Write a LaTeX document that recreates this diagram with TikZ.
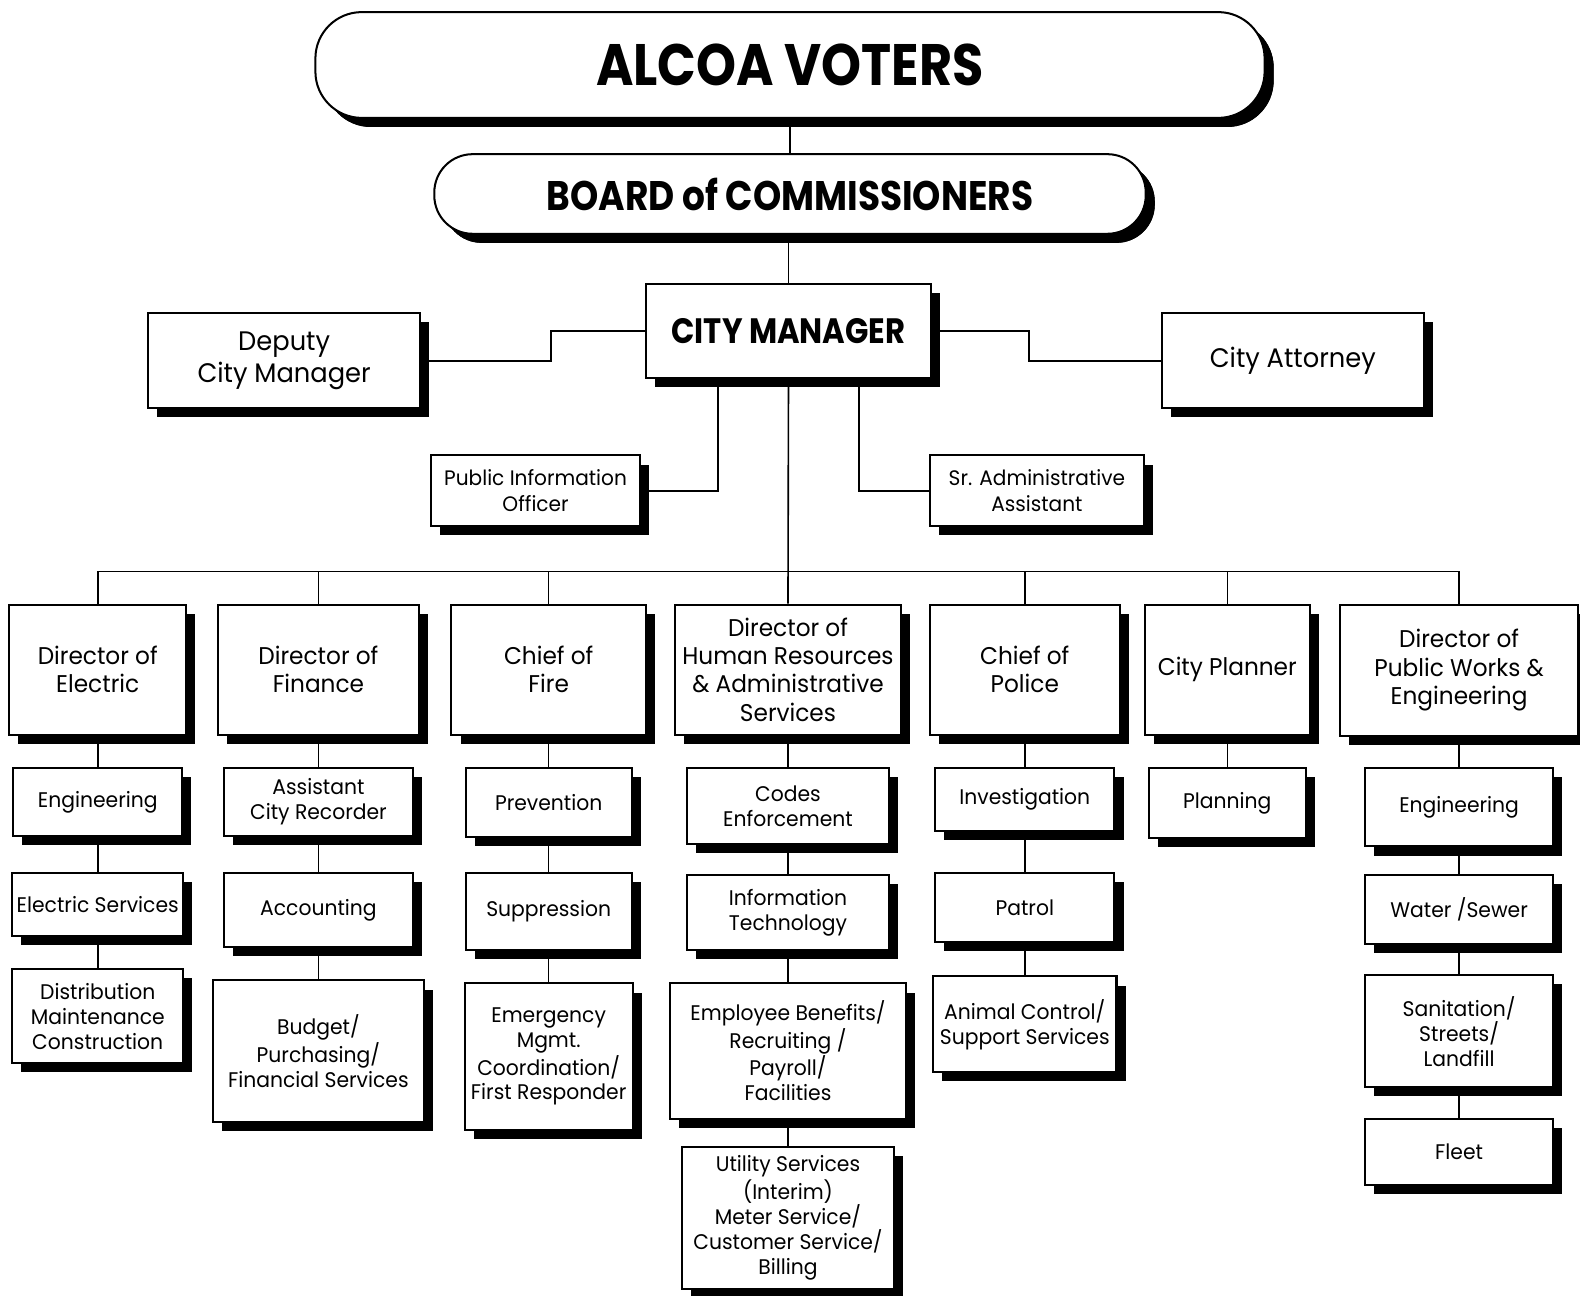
\documentclass[tikz,border=0pt]{standalone}
\usepackage{fontspec}
\setmainfont{Poppins}[FakeStretch=0.96, BoldFeatures={FakeStretch=0.87}]
\usetikzlibrary{shadows}
\tikzset{
  box/.style={draw=black, line width=1pt, fill=white, rectangle, align=center, inner sep=1pt,
    general shadow={fill=black, shadow xshift=4.5pt, shadow yshift=-4.5pt}},
  pill/.style={box, rounded corners=#1},
  conn/.style={draw=black, line width=0.8pt},
  ftop/.style={font=\bfseries\fontsize{29}{32}\selectfont},
  fboard/.style={font=\bfseries\fontsize{20.5}{24}\selectfont},
  fcm/.style={font=\bfseries\fontsize{17.5}{21}\selectfont},
  fside/.style={font=\fontsize{13.3}{15.5}\selectfont},
  fdir/.style={font=\fontsize{12}{14}\selectfont},
  fsmall/.style={font=\fontsize{10.4}{13}\selectfont},
  fsub/.style={font=\fontsize{10.5}{12.4}\selectfont},
}
\newcommand\bx[7]{%
  \node[box,#6,minimum width={(#4-#2)*0.5pt},minimum height={(#5-#3)*0.5pt}] (#1) at ({(#2+#4)/2},{(#3+#5)/2}) {#7};}
\begin{document}
\begin{tikzpicture}[x=0.5pt,y=-0.5pt]
\clip (0,0) rectangle (1568,1286);
\fill[white] (0,0) rectangle (1568,1286);
% top
\bx{voters}{313}{12}{1255}{117}{pill=23pt,ftop}{ALCOA VOTERS}
\bx{board}{431}{153}{1137}{232}{pill=19pt,fboard}{BOARD of COMMISSIONERS}
\bx{cm}{641}{282}{924}{375}{fcm}{CITY MANAGER}
\bx{dep}{147}{311}{417}{405}{fside}{Deputy\\City Manager}
\bx{att}{1153}{311}{1413}{405}{fside}{City Attorney}
\bx{pio}{428}{452}{635}{522}{fsmall}{Public Information\\Officer}
\bx{sra}{923}{452}{1135}{522}{fsmall}{Sr. Administrative\\Assistant}
% directors
\bx{dirE}{9}{600}{185}{729}{fdir}{Director of\\Electric}
\bx{dirF}{216}{600}{416}{729}{fdir}{Director of\\Finance}
\bx{dirFi}{448}{600}{641}{729}{fdir}{Chief of\\Fire}
\bx{dirH}{670}{600}{894}{729}{fdir}{Director of\\Human Resources\\\& Administrative\\Services}
\bx{dirP}{923}{600}{1111}{729}{fdir}{Chief of\\Police}
\bx{dirC}{1136}{600}{1300}{729}{fdir}{City Planner}
\bx{dirW}{1330}{600}{1566}{730}{fdir}{Director of\\Public Works \&\\Engineering}
% electric
\bx{e1}{13}{762}{181}{830}{fsub}{Engineering}
\bx{e2}{12}{866}{182}{929}{fsub}{Electric Services}
\bx{e3}{12}{962}{182}{1055}{fsub}{Distribution\\Maintenance\\Construction}
% finance
\bx{f1}{222}{762}{410}{830}{fsub}{Assistant\\City Recorder}
\bx{f2}{222}{866}{410}{940}{fsub}{Accounting}
\bx{f3}{211}{973}{421}{1113}{fsub}{Budget/\\Purchasing/\\Financial Services}
% fire
\bx{fi1}{462}{762}{627}{831}{fsub}{Prevention}
\bx{fi2}{462}{866}{627}{943}{fsub}{Suppression}
\bx{fi3}{461}{976}{628}{1121}{fsub}{Emergency\\Mgmt.\\Coordination/\\First Responder}
% hr
\bx{h1}{682}{762}{882}{838}{fsub}{Codes\\Enforcement}
\bx{h2}{682}{868}{882}{943}{fsub}{Information\\Technology}
\bx{h3}{665}{976}{899}{1110}{fsub}{Employee Benefits/\\Recruiting /\\Payroll/\\Facilities}
\bx{h4}{677}{1138}{887}{1279}{fsub}{Utility Services\\(Interim)\\Meter Service/\\Customer Service/\\Billing}
% police
\bx{p1}{928}{762}{1106}{825}{fsub}{Investigation}
\bx{p2}{928}{866}{1106}{935}{fsub}{Patrol}
\bx{p3}{926}{969}{1108}{1064}{fsub}{Animal Control/\\Support Services}
% planner
\bx{c1}{1140}{762}{1296}{832}{fsub}{Planning}
% public works
\bx{w1}{1355}{762}{1541}{840}{fsub}{Engineering}
\bx{w2}{1355}{868}{1541}{937}{fsub}{Water /Sewer}
\bx{w3}{1355}{968}{1541}{1079}{fsub}{Sanitation/\\Streets/\\Landfill}
\bx{w4}{1355}{1110}{1541}{1176}{fsub}{Fleet}
% connectors
\coordinate (bus) at (782,567);
\coordinate (dj) at (547,0);
\coordinate (aj) at (1021,0);
\draw[conn] (voters.south -| board.north) -- (board.north);
\draw[conn] (board.south -| cm.north) -- (cm.north);
\draw[conn] (dep.east) -- (dep.east -| dj) |- (cm.west);
\draw[conn] (cm.east) -- (cm.east -| aj) |- (att.west);
\draw[conn] ([xshift=-35pt]cm.south) |- (pio.east);
\draw[conn] ([xshift=35pt]cm.south) |- (sra.west);
\draw[conn] (cm.south) -- (dirH.north);
\draw[conn] (dirE.north) -- (dirE.north |- bus) -- (dirW.north |- bus) -- (dirW.north);
\foreach \d in {dirF,dirFi,dirP,dirC}{\draw[conn] (\d.north) -- (\d.north |- bus);}
\draw[conn] (dirE.south) -- (e1.north) (e1.south) -- (e2.north) (e2.south) -- (e3.north);
\draw[conn] (dirF.south) -- (f1.north) (f1.south) -- (f2.north) (f2.south) -- (f3.north);
\draw[conn] (dirFi.south) -- (fi1.north) (fi1.south) -- (fi2.north) (fi2.south) -- (fi3.north);
\draw[conn] (dirH.south) -- (h1.north) (h1.south) -- (h2.north) (h2.south) -- (h3.north) (h3.south) -- (h4.north);
\draw[conn] (dirP.south) -- (p1.north) (p1.south) -- (p2.north) (p2.south) -- (p3.north);
\draw[conn] (dirC.south) -- (c1.north);
\draw[conn] (dirW.south) -- (w1.north) (w1.south) -- (w2.north) (w2.south) -- (w3.north) (w3.south) -- (w4.north);
\end{tikzpicture}
\end{document}
